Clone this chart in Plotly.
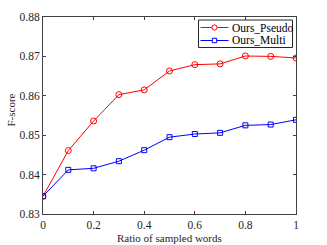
import plotly.graph_objects as go

ratios = [0, 0.1, 0.2, 0.3, 0.4, 0.5, 0.6, 0.7, 0.8, 0.9, 1.0]
ours_pseudo = [0.8345, 0.8461, 0.8536, 0.8603, 0.8615, 0.8663, 0.8679, 0.8681, 0.8701, 0.8700, 0.8696]
ours_multi = [0.8345, 0.8412, 0.8416, 0.8434, 0.8462, 0.8495, 0.8503, 0.8506, 0.8525, 0.8527, 0.8539]
x_ticks = [0, 0.2, 0.4, 0.6, 0.8, 1]
x_tick_labels = ["0", "0.2", "0.4", "0.6", "0.8", "1"]
y_ticks = [0.83, 0.84, 0.85, 0.86, 0.87, 0.88]
y_tick_labels = ["0.83", "0.84", "0.85", "0.86", "0.87", "0.88"]
series_names = ["Ours_Pseudo", "Ours_Multi"]
series_colors = ["#ff0000", "#0000ff"]

font = "Liberation Serif, Times New Roman, serif"
W, H = 327, 245
L, R, T, B = 43, 31, 17, 31
PW, PH = W - L - R, H - T - B


def px_x(p):
    return (p - L) / PW


def px_y(p):
    return (H - B - p) / PH


fig = go.Figure()
fig.add_trace(go.Scatter(
    x=ratios, y=ours_pseudo, name=series_names[0], mode="lines+markers",
    line=dict(color=series_colors[0], width=1),
    marker=dict(symbol="circle-open", size=6, color=series_colors[0], line=dict(width=1)),
))
fig.add_trace(go.Scatter(
    x=ratios, y=ours_multi, name=series_names[1], mode="lines+markers",
    line=dict(color=series_colors[1], width=1),
    marker=dict(symbol="square-open", size=5, color=series_colors[1], line=dict(width=1)),
))

axis_common = dict(
    showline=True, linecolor="#404040", linewidth=1, mirror="ticks",
    ticks="inside", ticklen=3, tickcolor="#404040", tickwidth=1,
    showgrid=False, zeroline=False, automargin=False,
    tickfont=dict(family=font, size=11.5, color="#262626"),
)

# custom compact legend (box, samples, labels)
shapes = []
annotations = []
shapes.append(dict(type="rect", xref="paper", yref="paper",
                   x0=px_x(198.5), x1=px_x(292.5), y0=px_y(47.5), y1=px_y(20),
                   line=dict(color="#262626", width=1), fillcolor="white", layer="above"))
legend_rows = [27.5, 40.5]
for name, color, yrow, sym in zip(series_names, series_colors, legend_rows, ["circle", "square"]):
    shapes.append(dict(type="line", xref="paper", yref="paper",
                       x0=px_x(200.5), x1=px_x(228.5), y0=px_y(yrow), y1=px_y(yrow),
                       line=dict(color=color, width=1), layer="above"))
    r = 2.6 if sym == "circle" else 2.2
    shapes.append(dict(type="circle" if sym == "circle" else "rect", xref="paper", yref="paper",
                       x0=px_x(214.5 - r), x1=px_x(214.5 + r), y0=px_y(yrow + r), y1=px_y(yrow - r),
                       line=dict(color=color, width=1), fillcolor="white", layer="above"))
    annotations.append(dict(xref="paper", yref="paper", x=px_x(229.5), y=px_y(yrow),
                            xanchor="left", yanchor="middle", showarrow=False, text=name,
                            font=dict(family=font, size=11.5, color="black")))

annotations.append(dict(xref="paper", yref="paper", x=0.5, y=px_y(238), xanchor="center", yanchor="middle",
                        showarrow=False, text="Ratio of sampled words",
                        font=dict(family=font, size=11, color="#262626")))
annotations.append(dict(xref="paper", yref="paper", x=px_x(10.5), y=px_y(110), xanchor="center", yanchor="middle",
                        showarrow=False, text="F-score", textangle=-90,
                        font=dict(family=font, size=11, color="#262626")))

fig.update_layout(
    width=W, height=H,
    margin=dict(l=L, r=R, t=T, b=B),
    paper_bgcolor="white", plot_bgcolor="white",
    font=dict(family=font, color="#262626"),
    showlegend=False,
    xaxis=dict(range=[0, 1], tickvals=x_ticks, ticktext=x_tick_labels, **axis_common),
    yaxis=dict(range=[0.83, 0.88], tickvals=y_ticks, ticktext=y_tick_labels, **axis_common),
    shapes=shapes,
    annotations=annotations,
)

fig.write_html(
    "out.html",
    config={"displayModeBar": False, "staticPlot": True},
    post_script="document.body.style.margin='0';document.body.style.overflow='hidden';",
)
